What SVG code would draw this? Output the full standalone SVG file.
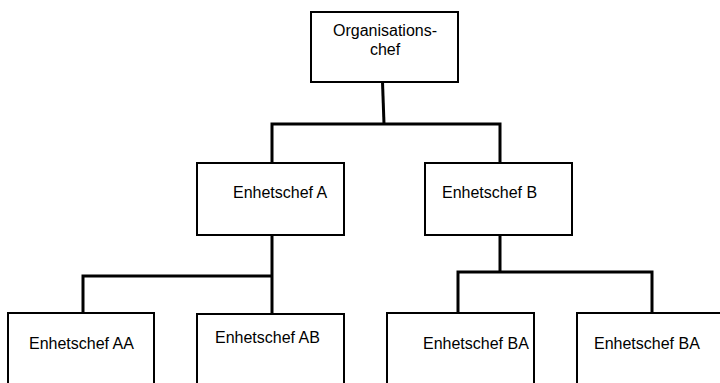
<svg xmlns="http://www.w3.org/2000/svg" width="720" height="383" viewBox="0 0 720 383">
<style>
.box{fill:#fff;stroke:#000;stroke-width:2}
.con{fill:none;stroke:#000;stroke-width:3;stroke-linejoin:miter}
text{font-family:"Liberation Sans",Arial,sans-serif;font-size:16px;fill:#000}
</style>
<rect width="720" height="383" fill="#fff"/>
<g id="connectors">
<path class="con" d="M382.5,82 L384,124"/>
<path class="con" d="M272,163 V124 H500 V163"/>
<path class="con" d="M272,235 V313"/>
<path class="con" d="M83,313 V276 H272"/>
<path class="con" d="M500,235 V272"/>
<path class="con" d="M458,313 V272 H652 V313"/>
</g>
<g id="n-org">
<rect class="box" x="311" y="12" width="147" height="70"/>
<text x="385" y="36" text-anchor="middle">Organisations-</text>
<text x="385" y="55" text-anchor="middle">chef</text>
</g>
<g id="n-a">
<rect class="box" x="197" y="163" width="147" height="72"/>
<text x="233" y="198">Enhetschef A</text>
</g>
<g id="n-b">
<rect class="box" x="425" y="163" width="147" height="72"/>
<text x="442" y="198">Enhetschef B</text>
</g>
<g id="n-aa">
<rect class="box" x="8" y="313" width="146" height="90"/>
<text x="29" y="349">Enhetschef AA</text>
</g>
<g id="n-ab">
<rect class="box" x="197" y="314" width="147" height="90"/>
<text x="215" y="343">Enhetschef AB</text>
</g>
<g id="n-ba">
<rect class="box" x="387" y="313" width="147" height="90"/>
<text x="423" y="349">Enhetschef BA</text>
</g>
<g id="n-bb">
<rect class="box" x="577" y="313" width="160" height="90"/>
<text x="594" y="349">Enhetschef BA</text>
</g>
</svg>
